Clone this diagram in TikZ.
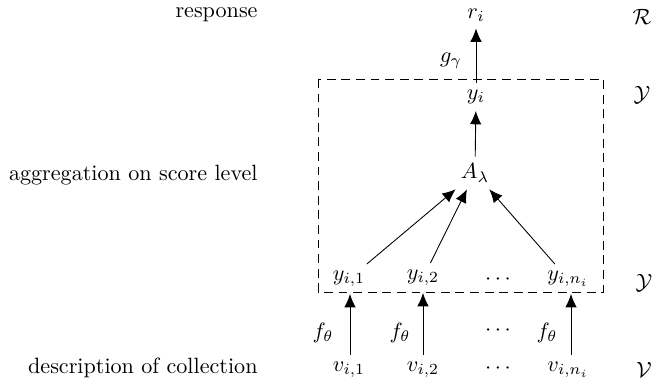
\documentclass[tikz,border=0pt]{standalone}
\usetikzlibrary{arrows.meta}
\begin{document}
\begin{tikzpicture}[x=0.452pt,y=-0.452pt,
  lbl/.style={inner sep=0pt, anchor=base east},
  var/.style={inner sep=3.0pt},
  arr/.style={-{Latex[length=6pt,width=5.2pt]}, line width=0.4pt},
  box/.style={dash pattern=on 4pt off 2.6pt, line width=0.4pt}]
\useasboundingbox (0,0) rectangle (656,384);
% left labels
\node[lbl] (lresp) at (258,17) {response};
\node[lbl] (lagg) at (258,180) {aggregation on score level};
\node[lbl] (ldesc) at (258,373) {description of collection};
% dashed box
\draw[box] (318,79) rectangle (603,292);
% main nodes
\node[var] (ri) at (476,15) {$r_i$};
\node[var] (yi) at (476,97) {$y_i$};
\node[var] (A) at (475,173) {$A_\lambda$};
\node[var] (y1) at (349,279) {$y_{i,1}$};
\node[var] (y2) at (423,278) {$y_{i,2}$};
\node[var] (yd) at (498,280) {$\cdots$};
\node[var] (yn) at (568,279) {$y_{i,n_i}$};
\node[var] (v1) at (349,370) {$v_{i,1}$};
\node[var] (v2) at (423,370) {$v_{i,2}$};
\node[var] (vd) at (498,369) {$\cdots$};
\node[var] (vn) at (568,370) {$v_{i,n_i}$};
% spaces
\node (sR) at (642,17) {$\mathcal{R}$};
\node (sY1) at (642,95) {$\mathcal{Y}$};
\node (sY2) at (644,283) {$\mathcal{Y}$};
\node (sV) at (644,370) {$\mathcal{V}$};
% arrows
\draw[arr] (yi) -- (ri);
\draw[arr] (A) -- (yi);
\draw[arr] (y1) -- (A);
\draw[arr] (y2) -- (A);
\draw[arr] (yn) -- (A);
\draw[arr] (v1.north -| 350,0) -- (y1.south -| 350,0);
\draw[arr] (v2.north -| 423,0) -- (y2.south -| 423,0);
\draw[arr] (vn.north -| 571,0) -- (yn.south -| 571,0);
% function labels
\node (g) at (451,61) {$g_\gamma$};
\node (f1) at (323,333) {$f_\theta$};
\node (f2) at (400,333) {$f_\theta$};
\node (fd) at (498,331) {$\cdots$};
\node (f3) at (547,333) {$f_\theta$};
\end{tikzpicture}
\end{document}
